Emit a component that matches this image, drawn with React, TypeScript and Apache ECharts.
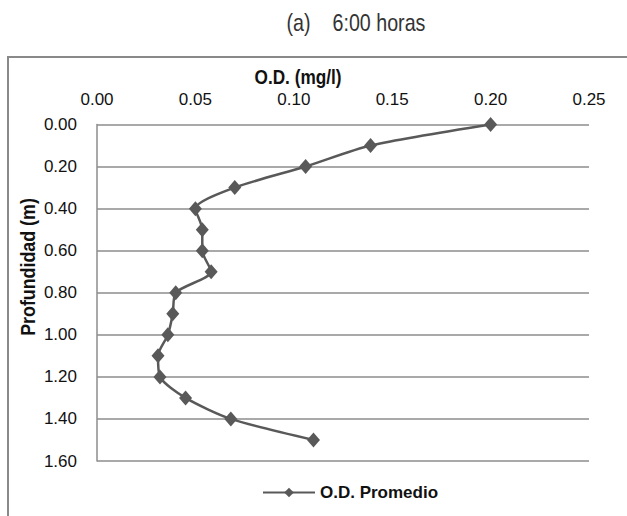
import React, { useEffect, useRef } from "react";
import * as echarts from "echarts";

const depths: number[] = [0, 0.1, 0.2, 0.3, 0.4, 0.5, 0.6, 0.7, 0.8, 0.9, 1.0, 1.1, 1.2, 1.3, 1.4, 1.5];
const odPromedio: number[] = [0.2, 0.139, 0.106, 0.070, 0.050, 0.0535, 0.0535, 0.058, 0.040, 0.0385, 0.036, 0.031, 0.032, 0.045, 0.068, 0.110];
const chartTitle = "(a)    6:00 horas";
const xTitle = "O.D. (mg/l)";
const yTitle = "Profundidad (m)";
const seriesName = "O.D. Promedio";

const FONT = "'Liberation Sans', Arial, sans-serif";

export default function App() {
  const ref = useRef<HTMLDivElement>(null);
  useEffect(() => {
    document.body.style.margin = "0";
    if (!ref.current) return;
    const chart = echarts.init(ref.current, undefined, { renderer: "svg" });
    const data = depths.map((d, i) => [odPromedio[i], d]);
    chart.setOption({
      animation: false,
      backgroundColor: "#ffffff",
      textStyle: { fontFamily: FONT },
      grid: { left: 97, right: 38, top: 124.5, bottom: 55, containLabel: false },
      xAxis: {
        type: "value",
        position: "top",
        min: 0,
        max: 0.25,
        interval: 0.05,
        axisLine: { show: false },
        axisTick: { show: false },
        splitLine: { show: false },
        axisLabel: {
          formatter: (v: number) => v.toFixed(2),
          fontSize: 17,
          color: "#111",
          fontFamily: FONT,
          margin: 17,
        },
      },
      yAxis: {
        type: "value",
        inverse: true,
        min: 0,
        max: 1.6,
        interval: 0.2,
        axisLine: { show: true, lineStyle: { color: "#8c8c8c", width: 1.5 } },
        axisTick: { show: false },
        splitLine: { show: true, lineStyle: { color: "#8c8c8c", width: 1.5 } },
        axisLabel: {
          formatter: (v: number) => v.toFixed(2),
          fontSize: 17,
          color: "#111",
          fontFamily: FONT,
          margin: 20,
        },
      },
      legend: {
        left: 262,
        top: 484,
        padding: 0,
        itemWidth: 52,
        itemHeight: 12,
        itemGap: 5,
        textStyle: { fontSize: 17, fontWeight: "bold", color: "#111", fontFamily: FONT },
        data: [seriesName],
      },
      graphic: [
        {
          type: "rect",
          shape: { x: 8, y: 57, width: 640, height: 480 },
          style: { fill: "none", stroke: "#898989", lineWidth: 2 },
          silent: true,
        },
        {
          type: "text",
          x: 356,
          y: 23,
          scaleX: 0.82,
          style: {
            text: chartTitle,
            fontSize: 24,
            fontFamily: FONT,
            fill: "#333",
            align: "center",
            verticalAlign: "middle",
          },
        },
        {
          type: "text",
          x: 298,
          y: 77,
          scaleX: 0.82,
          style: {
            text: xTitle,
            fontSize: 21,
            fontWeight: "bold",
            fontFamily: FONT,
            fill: "#111",
            align: "center",
            verticalAlign: "middle",
          },
        },
        {
          type: "text",
          x: 27,
          y: 267,
          rotation: Math.PI / 2,
          scaleX: 0.85,
          style: {
            text: yTitle,
            fontSize: 21,
            fontWeight: "bold",
            fontFamily: FONT,
            fill: "#111",
            align: "center",
            verticalAlign: "middle",
          },
        },
      ],
      series: [
        {
          name: seriesName,
          type: "line",
          data,
          smooth: 0.25,
          symbol: "diamond",
          symbolSize: [13, 15],
          lineStyle: { color: "#595959", width: 2.5 },
          itemStyle: { color: "#595959" },
        },
      ],
    });
    return () => chart.dispose();
  }, []);
  return <div ref={ref} style={{ width: 627, height: 516 }} />;
}
